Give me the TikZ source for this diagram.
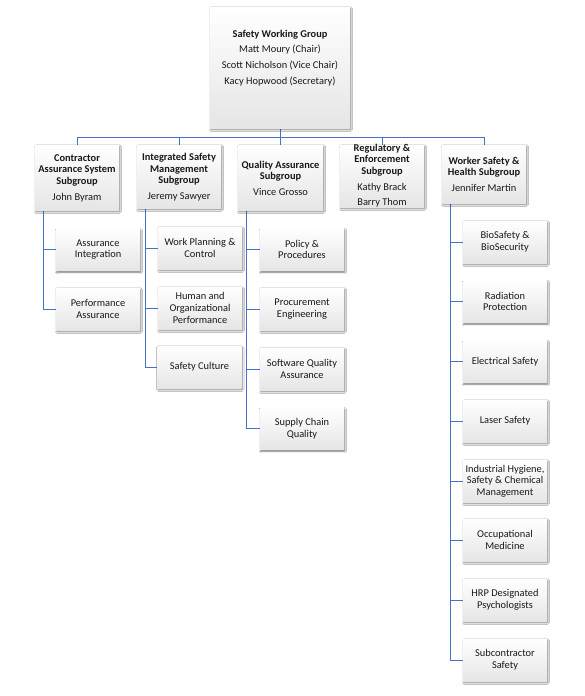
\documentclass[tikz,border=0pt]{standalone}
\usepackage{fontspec}
\setmainfont{Carlito}
\usetikzlibrary{shadows.blur,calc,backgrounds}
\definecolor{linkblue}{RGB}{68,114,196}
\tikzset{
  boxs/.style={draw=none, top color=white, bottom color=black!10,
    blur shadow={shadow xshift=0.8pt, shadow yshift=-1.6pt, shadow blur radius=1.8pt, shadow opacity=55},
    inner sep=0pt},
  kid/.style={boxs, minimum width=84pt, minimum height=42pt, align=center},
  txt/.style={align=center, inner sep=0pt},
  link/.style={draw=linkblue, line width=0.9pt},
}
\begin{document}
\begin{tikzpicture}[x=1pt,y=-1pt, font=\fontsize{10.4}{11.6}\selectfont, every node/.append style={text=black!90}]
\useasboundingbox (0,0) rectangle (585,696);
% top
\node[boxs, minimum width=140pt, minimum height=121pt] (top) at (280,67.5) {};
\node[txt, font=\fontsize{10.4}{15.8}\selectfont] (toptxt) at (280,58) {\textbf{Safety Working Group}\\Matt Moury (Chair)\\Scott Nicholson (Vice Chair)\\Kacy Hopwood (Secretary)};
% level 1
\node[boxs, minimum width=84pt, minimum height=65pt] (c1) at (77,177.5) {};
\node[txt] (c1t) at (77,178) {\textbf{Contractor}\\\textbf{Assurance System}\\\textbf{Subgroup}\\[4.2pt]John Byram};
\node[boxs, minimum width=84pt, minimum height=63pt] (c2) at (179,176.5) {};
\node[txt] (c2t) at (179,177.2) {\textbf{Integrated Safety}\\\textbf{Management}\\\textbf{Subgroup}\\[4.2pt]Jeremy Sawyer};
\node[boxs, minimum width=85pt, minimum height=65pt] (c3) at (280.5,177.5) {};
\node[txt] (c3t) at (280.5,178.2) {\textbf{Quality Assurance}\\\textbf{Subgroup}\\[4.2pt]Vince Grosso};
\node[boxs, minimum width=84pt, minimum height=62pt] (c4) at (382,176) {};
\node[txt] (c4t) at (382,175.8) {\textbf{Regulatory \&}\\\textbf{Enforcement}\\\textbf{Subgroup}\\[4.2pt]Kathy Brack\\[4pt]Barry Thom};
\node[boxs, minimum width=84pt, minimum height=58pt] (c5) at (484,174) {};
\node[txt] (c5t) at (484,174.2) {\textbf{Worker Safety \&}\\\textbf{Health Subgroup}\\[4.2pt]Jennifer Martin};
% children
\node[kid] (a1) at (98,249.5) {Assurance\\Integration};
\node[kid] (a2) at (98,309) {Performance\\Assurance};
\node[kid] (b1) at (200,248) {Work Planning \&\\Control};
\node[kid] (b2) at (200,308) {Human and\\Organizational\\Performance};
\node[kid] (b3) at (199.5,367) {Safety Culture};
\node[kid] (q1) at (302,249.5) {Policy \&\\Procedures};
\node[kid] (q2) at (302,309) {Procurement\\Engineering};
\node[kid] (q3) at (302,369) {Software Quality\\Assurance};
\node[kid] (q4) at (302,428.5) {Supply Chain\\Quality};
\node[kid] (w1) at (505,242) {BioSafety \&\\BioSecurity};
\node[kid] (w2) at (505,301.5) {Radiation\\Protection};
\node[kid] (w3) at (505,361.5) {Electrical Safety};
\node[kid] (w4) at (505,421) {Laser Safety};
\node[kid] (w5) at (505,481) {Industrial Hygiene,\\Safety \& Chemical\\Management};
\node[kid] (w6) at (505,540) {Occupational\\Medicine};
\node[kid] (w7) at (505,600) {HRP Designated\\Psychologists};
\node[kid] (w8) at (505,660) {Subcontractor\\Safety};
% connectors
\begin{scope}[on background layer]
\fill[white] (0,0) rectangle (585,696);
\coordinate (bus) at (0,137);
\draw[link] (top.south) -- (top.south |- bus);
\foreach \n in {c1,c2,c3,c4,c5} \draw[link] (top.south |- bus) -| (\n.north);
\foreach \p/\c in {c1/a1,c1/a2,c2/b1,c2/b2,c2/b3,c3/q1,c3/q2,c3/q3,c3/q4,
  c5/w1,c5/w2,c5/w3,c5/w4,c5/w5,c5/w6,c5/w7,c5/w8}
  \draw[link] ($(\p.south west)+(8.5,0)$) |- (\c.west);
\end{scope}
\end{tikzpicture}
\end{document}
